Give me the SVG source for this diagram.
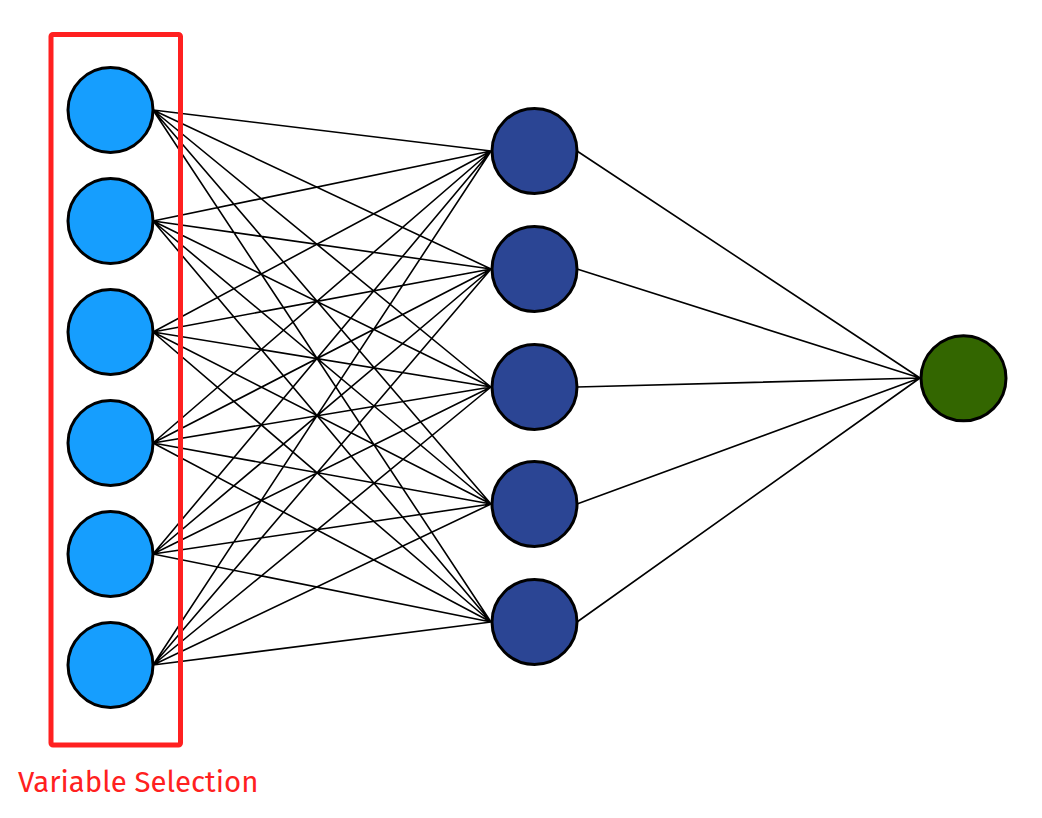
<svg xmlns="http://www.w3.org/2000/svg" width="1042" height="818" viewBox="0 0 1042 818">
<style>
.e{stroke:#000;stroke-width:1.6;fill:none}
.n{stroke:#000;stroke-width:3}
.in{fill:#169EFE}
.hid{fill:#2B4594}
.out{fill:#336600}
.lbl{font-family:"Fira Sans","Open Sans","Liberation Sans",sans-serif;font-size:29.4px;fill:#FF2020}
</style>
<rect width="1042" height="818" fill="#fff"/>
<g id="connectors">
<path class="e" d="M153,110L491,151M153,110L491,269M153,110L491,387M153,110L491,504M153,110L491,622
M153,221L491,151M153,221L491,269M153,221L491,387M153,221L491,504M153,221L491,622
M153,332L491,151M153,332L491,269M153,332L491,387M153,332L491,504M153,332L491,622
M153,443L491,151M153,443L491,269M153,443L491,387M153,443L491,504M153,443L491,622
M153,554L491,151M153,554L491,269M153,554L491,387M153,554L491,504M153,554L491,622
M153,665L491,151M153,665L491,269M153,665L491,387M153,665L491,504M153,665L491,622
M577,151L920,378M577,269L920,378M577,387L920,378M577,504L920,378M577,622L920,378"/>
</g>
<g id="selection">
<rect x="51" y="34.5" width="129.5" height="710.5" rx="2" fill="none" stroke="#FF2020" stroke-width="5"/>
<text class="lbl" x="18" y="791.5">Variable Selection</text>
</g>
<g id="input1"><circle class="n in" cx="110.5" cy="110" r="42.5"/></g>
<g id="input2"><circle class="n in" cx="110.5" cy="221" r="42.5"/></g>
<g id="input3"><circle class="n in" cx="110.5" cy="332" r="42.5"/></g>
<g id="input4"><circle class="n in" cx="110.5" cy="443" r="42.5"/></g>
<g id="input5"><circle class="n in" cx="110.5" cy="554" r="42.5"/></g>
<g id="input6"><circle class="n in" cx="110.5" cy="665" r="42.5"/></g>
<g id="hidden1"><circle class="n hid" cx="534.5" cy="151" r="42.5"/></g>
<g id="hidden2"><circle class="n hid" cx="534.5" cy="269" r="42.5"/></g>
<g id="hidden3"><circle class="n hid" cx="534.5" cy="387" r="42.5"/></g>
<g id="hidden4"><circle class="n hid" cx="534.5" cy="504" r="42.5"/></g>
<g id="hidden5"><circle class="n hid" cx="534.5" cy="622" r="42.5"/></g>
<g id="output"><circle class="n out" cx="963.5" cy="378.3" r="42.5"/></g>
</svg>
